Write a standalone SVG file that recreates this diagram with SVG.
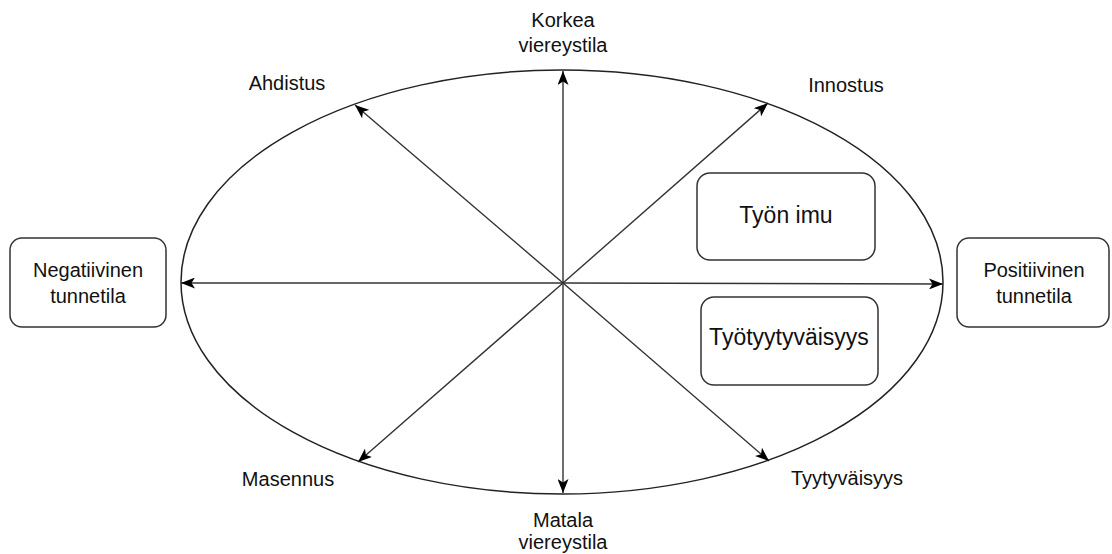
<svg xmlns="http://www.w3.org/2000/svg" width="1112" height="554" viewBox="0 0 1112 554">
<defs>
<marker id="arr" viewBox="0 0 14 11" refX="14" refY="5.5" markerWidth="14" markerHeight="11" markerUnits="userSpaceOnUse" orient="auto">
<path d="M0,0 L14,5.5 L0,11 L3.5,5.5 Z" fill="#000"/>
</marker>
<style>
.t{font-family:"Liberation Sans",Arial,sans-serif;font-size:20px;fill:#111;text-anchor:middle}
.big{font-size:23px}
.box{fill:#fff;stroke:#333;stroke-width:1.5}
.ln{stroke:#333;stroke-width:1.4;fill:none;marker-end:url(#arr)}
</style>
</defs>
<rect width="1112" height="554" fill="#fff"/>
<g id="ellipse"><ellipse cx="562" cy="282" rx="381" ry="212" fill="none" stroke="#222" stroke-width="1.5"/></g>
<g id="connectors">
<line class="ln" x1="563" y1="283" x2="563" y2="71"/>
<line class="ln" x1="563" y1="283" x2="563" y2="493"/>
<line class="ln" x1="563" y1="283" x2="181" y2="283"/>
<line class="ln" x1="563" y1="283" x2="943" y2="284"/>
<line class="ln" x1="563" y1="283" x2="355" y2="105"/>
<line class="ln" x1="563" y1="283" x2="768" y2="103"/>
<line class="ln" x1="563" y1="283" x2="358" y2="462"/>
<line class="ln" x1="563" y1="283" x2="769" y2="461"/>
</g>
<g id="korkea"><text class="t" x="563" y="27">Korkea</text><text class="t" x="563" y="52">viereystila</text></g>
<g id="matala"><text class="t" x="563" y="527">Matala</text><text class="t" x="563" y="549">viereystila</text></g>
<g id="ahdistus"><text class="t" x="287" y="90">Ahdistus</text></g>
<g id="innostus"><text class="t" x="846" y="92">Innostus</text></g>
<g id="masennus"><text class="t" x="288" y="486">Masennus</text></g>
<g id="tyytyvaisyys"><text class="t" x="847" y="485">Tyytyväisyys</text></g>
<g id="negatiivinen"><rect class="box" x="10" y="238" width="156" height="89" rx="12"/><text class="t" x="88" y="277">Negatiivinen</text><text class="t" x="88" y="303">tunnetila</text></g>
<g id="positiivinen"><rect class="box" x="957" y="238" width="152" height="89" rx="12"/><text class="t" x="1034" y="277">Positiivinen</text><text class="t" x="1034" y="303">tunnetila</text></g>
<g id="tyon-imu"><rect class="box" x="697" y="173" width="178" height="87" rx="13"/><text class="t big" x="786" y="223">Työn imu</text></g>
<g id="tyotyytyvaisyys"><rect class="box" x="701" y="297" width="177" height="88" rx="13"/><text class="t big" x="789" y="345">Työtyytyväisyys</text></g>
</svg>
